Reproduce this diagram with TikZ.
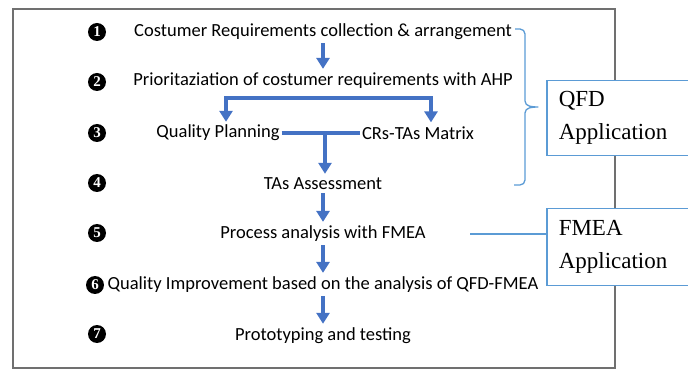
\documentclass[tikz,border=0pt]{standalone}
\usepackage{fontspec}
\setmainfont{Carlito}
\newfontfamily\boxfont{Liberation Serif}
\usetikzlibrary{arrows.meta}
\definecolor{flowblue}{HTML}{4472C4}
\definecolor{lineblue}{HTML}{5B9BD5}
\definecolor{framegray}{HTML}{707070}

\begin{document}
\begin{tikzpicture}[x=1pt,y=-1pt,>={Triangle[width=13pt,length=11pt]},
  item node/.style={font=\fontsize{18.5}{22}\selectfont,inner sep=2pt},
  num node/.style={circle,fill=black,text=white,inner sep=0pt,minimum size=18pt,
    font=\boxfont\bfseries\fontsize{15}{15}\selectfont},
  flowarrow/.style={->,draw=flowblue,line width=4pt,shorten <=1pt,shorten >=2pt},
  side box/.style={draw=lineblue,line width=1.5pt,fill=white,anchor=north west,
    minimum width=160pt,text width=136pt,align=left,inner xsep=12pt,
    font=\boxfont\fontsize{23}{32}\selectfont}]

  \useasboundingbox (0,0) rectangle (688,371);
  \clip (0,0) rectangle (688,371);

  % frame
  \draw[framegray,line width=1.6pt] (13,9) rectangle (615,368);

  % numbers
  \node[num node] (n1) at (97,32) {1};
  \node[num node] (n2) at (97,82) {2};
  \node[num node] (n3) at (97,133) {3};
  \node[num node] (n4) at (97,183) {4};
  \node[num node] (n5) at (97,233) {5};
  \node[num node] (n6) at (95,285) {6};
  \node[num node] (n7) at (97,334) {7};

  % steps
  \node[item node] (t1) at (323,32) {Costumer Requirements collection \& arrangement};
  \node[item node] (t2) at (323,81) {Prioritaziation of costumer requirements with AHP};
  \node[item node] (qp) at (218,133) {Quality Planning};
  \node[item node] (cm) at (418,133) {CRs-TAs Matrix};
  \node[item node] (t4) at (323,184) {TAs Assessment};
  \node[item node] (t5) at (323,234) {Process analysis with FMEA};
  \node[item node] (t6) at (323,285) {Quality Improvement based on the analysis of QFD-FMEA};
  \node[item node] (t7) at (323,336) {Prototyping and testing};

  \coordinate (ql) at (226,98);
  \coordinate (qr) at (431,98);
  \coordinate (mid) at (325,134);

  \draw[flowarrow] (t1) -- (t2);
  \draw[flowarrow,<->] (ql |- qp.north) -- (ql) -- (qr) -- (qr |- cm.north);
  \draw[flowblue,line width=4pt] (qp.east) -- (cm.west);
  \draw[flowarrow,shorten <=0pt] (mid) -- (mid |- t4.north);
  \draw[flowarrow] (t4) -- (t5);
  \draw[flowarrow] (t5) -- (t6);
  \draw[flowarrow] (t6) -- (t7);

  % applications
  \node[side box,minimum height=75pt] (qfd) at (546,80) {QFD\\[1pt]Application};
  \node[side box,minimum height=77pt] (fmea) at (546,208) {FMEA\\[1pt]Application};

  % brace
  \draw[lineblue,line width=1.3pt,line join=round]
    (515,29) -- (520,29) to[out=0,in=90] (525,34) -- (525,101)
    to[out=-90,in=180] (538,107) to[out=180,in=90] (525,113)
    -- (525,180) to[out=-90,in=0] (520,185) -- (514,185);
  \coordinate (fm) at (470,234);
  \draw[lineblue,line width=1.2pt] (fm) -- (fmea.west |- fm);
\end{tikzpicture}
\end{document}
